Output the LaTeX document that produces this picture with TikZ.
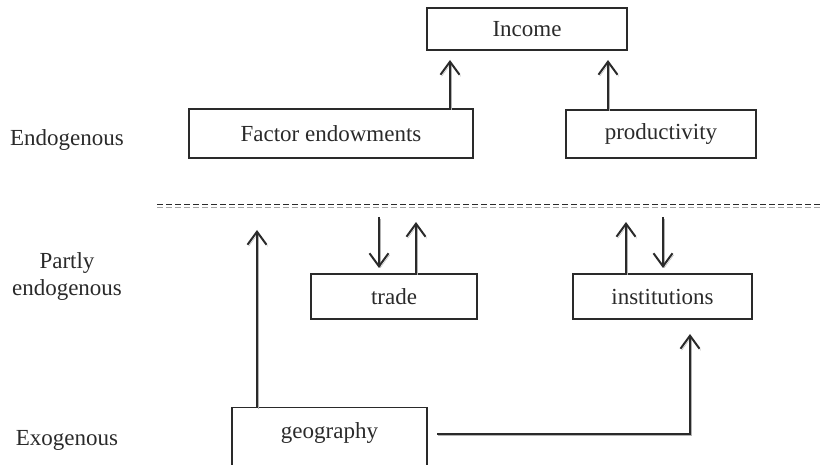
\documentclass[tikz,border=0pt]{standalone}
\usepackage{fontspec}
\setmainfont{Liberation Serif}
\usetikzlibrary{arrows.meta}
\definecolor{ink}{HTML}{2A2A2A}
\tikzset{
  box/.style={draw=ink, line width=1.1pt, inner sep=0pt, text=ink},
  lbl/.style={text=ink, align=center, inner sep=0pt},
  arr/.style={draw=ink, line width=2pt, -{Straight Barb[length=13pt,width=19pt,line width=2pt]},
    preaction={draw=black!30, transform canvas={shift={(1.2pt,-1.6pt)}}}},
  link/.style={draw=ink, line width=2pt,
    preaction={draw=black!30, transform canvas={shift={(1.2pt,-1.6pt)}}}}
}
\begin{document}
\begin{tikzpicture}[x=1pt, y=-1pt, font=\fontsize{23}{27}\selectfont]
\useasboundingbox (0,0) rectangle (823,465);
\clip (0,0) rectangle (823,465);
% level labels
\node[lbl] (lendo) at (67,140) {Endogenous};
\node[lbl] (lpart) at (67,277) {Partly\\endogenous};
\node[lbl] (lexo) at (67,440) {Exogenous};
% boxes
\node[box, minimum width=200pt, minimum height=42pt] (income) at (527,29) {Income};
\node[box, minimum width=284pt, minimum height=49pt] (factor) at (331,133.5) {Factor endowments};
\node[box, minimum width=190pt, minimum height=48pt] (prod) at (661,134) {productivity};
\node[box, minimum width=166pt, minimum height=45pt] (trade) at (394,296.5) {trade};
\node[box, minimum width=179pt, minimum height=45pt] (inst) at (662.5,296.5) {institutions};
\node[box, minimum width=195pt, minimum height=75pt, anchor=north] (geo) at (329.5,407) {};
\node[lbl] (geotext) at (329.5,433) {geography};
% dashed divider
\coordinate (dl) at (157,205);
\coordinate (dr) at (823,205);
\draw[black!35, line width=1pt, dash pattern=on 6pt off 3pt] ([yshift=-3pt]dl) -- ([yshift=-3pt]dr);
\draw[ink, line width=1pt, dash pattern=on 6pt off 3pt] (dl) -- (dr);
% arrows to income
\coordinate (fi) at (450,60);
\coordinate (pi) at (608,60);
\draw[arr] (factor.north -| fi) -- (fi);
\draw[arr] (prod.north -| pi) -- (pi);
% trade arrows
\coordinate (td0) at (379,217);
\coordinate (td1) at (379,268);
\coordinate (tu) at (416,222);
\draw[arr] (td0) -- (td1);
\draw[arr] (trade.north -| tu) -- (tu);
% institutions arrows
\coordinate (iu) at (626,222);
\coordinate (id0) at (663,217);
\coordinate (id1) at (663,268);
\draw[arr] (inst.north -| iu) -- (iu);
\draw[arr] (id0) -- (id1);
% geography arrows
\coordinate (gu) at (257,230);
\draw[arr] (geo.north -| gu) -- (gu);
\coordinate (gs) at (437,434);
\coordinate (gt) at (690,334);
\draw[arr] (gs) -| (gt);
\end{tikzpicture}
\end{document}
